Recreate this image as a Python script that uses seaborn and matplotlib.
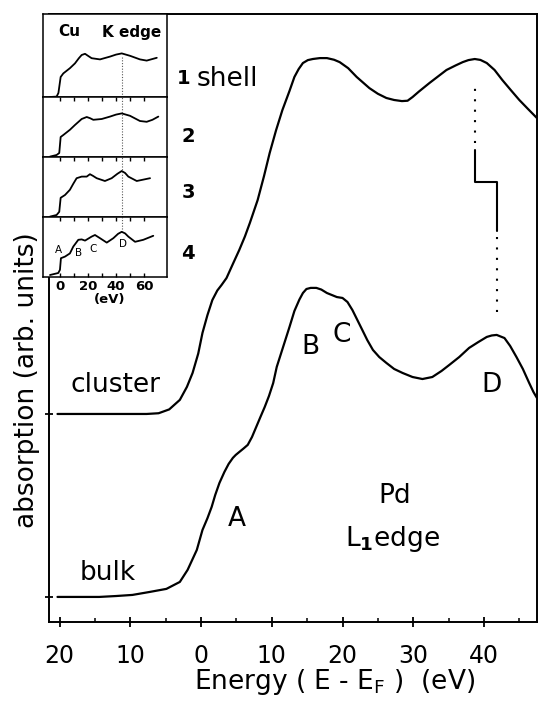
import matplotlib
matplotlib.use("Agg")
import matplotlib.pyplot as plt
import seaborn as sns
import pandas as pd

# ---------------- data: Pd L1 edge (main panel) ----------------
cluster_energy = [-20.3, -12.0, -7.7, -6.0, -4.5, -3.0, -2.0, -1.2, -0.4, 0.2, 0.9, 1.6, 2.3,
                  2.9, 3.6, 4.5, 5.4, 6.2, 6.9, 8.0, 8.9, 9.7, 10.6, 11.5, 12.5, 13.2, 13.8,
                  14.4, 15.1, 15.8, 16.8, 17.8, 18.8, 19.6, 20.8, 22.0, 23.8, 25.0, 26.2,
                  27.3, 28.4, 29.2, 29.9, 30.8, 32.3, 34.7, 36.0, 37.0, 37.8, 38.7, 39.5,
                  40.4, 41.5, 42.6, 43.8, 45.0, 46.2, 47.5]
cluster_abs = [1.000, 1.000, 1.000, 1.004, 1.025, 1.077, 1.148, 1.224, 1.330, 1.443, 1.540, 1.623,
               1.675, 1.705, 1.743, 1.820, 1.896, 1.970, 2.044, 2.169, 2.300, 2.426, 2.550,
               2.661, 2.765, 2.842, 2.885, 2.918, 2.934, 2.940, 2.945, 2.945, 2.936, 2.923,
               2.890, 2.842, 2.781, 2.750, 2.727, 2.716, 2.710, 2.712, 2.732, 2.762, 2.809,
               2.880, 2.905, 2.923, 2.934, 2.940, 2.935, 2.918, 2.880, 2.825, 2.770, 2.716,
               2.668, 2.617]

bulk_energy = [-20.3, -14.4, -12.0, -9.7, -7.3, -4.9, -3.0, -1.9, -0.6, 0.2, 0.9, 1.5, 2.0,
               2.6, 3.3, 3.9, 4.5, 4.9, 5.4, 6.0, 6.6, 7.2, 7.8, 8.4, 9.0, 9.6, 10.2, 10.7,
               11.6, 12.5, 13.2, 13.9, 14.4, 14.9, 15.5, 16.3, 17.0, 17.8, 18.5, 19.2, 20.0,
               20.7, 21.4, 22.8, 23.5, 24.3, 25.2, 26.2, 27.3, 28.5, 29.9, 31.3, 32.7, 34.0,
               35.1, 36.5, 37.9, 39.2, 40.4, 41.1, 41.8, 42.9, 43.7, 44.6, 45.5, 46.4, 47.0,
               47.5]
bulk_abs = [0.000, 0.000, 0.005, 0.011, 0.027, 0.044, 0.082, 0.148, 0.257, 0.366, 0.430, 0.492,
            0.557, 0.623, 0.683, 0.727, 0.760, 0.776, 0.792, 0.811, 0.831, 0.874, 0.929, 0.984,
            1.038, 1.098, 1.169, 1.257, 1.366, 1.475, 1.563, 1.625, 1.661, 1.683, 1.689, 1.689,
            1.680, 1.661, 1.650, 1.639, 1.634, 1.612, 1.568, 1.459, 1.404, 1.350, 1.311, 1.279,
            1.246, 1.224, 1.202, 1.191, 1.202, 1.235, 1.268, 1.311, 1.361, 1.393, 1.421, 1.429,
            1.432, 1.415, 1.372, 1.311, 1.246, 1.169, 1.120, 1.087]

x_ticks = [-20, -10, 0, 10, 20, 30, 40]
x_tick_labels = ["20", "10", "0", "10", "20", "30", "40"]
x_minor_ticks = [-15, -5, 5, 15, 25, 35, 45]
baseline_ticks = [0.0, 1.0]          # bulk and cluster baselines

# peak D positions (eV) and the shift marker levels (arb. units)
cluster_peak_D = 38.8
bulk_peak_D = 41.8
upper_dotted = (2.48, 2.81)
upper_solid = (2.27, 2.44)
lower_solid = (2.00, 2.27)
lower_dotted = (1.56, 1.97)

# ---------------- data: Cu K edge inset (1 to 4 shells) ----------------
cu_energy_1 = [-7.1, -2.4, -1.1, 0.5, 2.4, 7.1, 10.7, 13.5, 15.5, 17.9, 20.0, 22.6, 28.6, 35.7,
               40.0, 44.1, 50.0, 57.1, 61.9, 69.1]
cu_abs_1 = [0.00, 0.01, 0.10, 0.50, 0.59, 0.72, 0.84, 0.97, 1.05, 1.08, 1.03, 0.97, 0.94, 1.01,
            1.06, 1.09, 1.03, 0.94, 0.91, 0.98]
cu_energy_2 = [-7.1, -2.4, -0.5, 0.5, 2.4, 7.1, 10.7, 15.5, 19.1, 21.5, 23.8, 29.8, 35.7, 40.0,
               44.1, 50.0, 57.1, 61.9, 66.0, 70.2]
cu_abs_2 = [0.01, 0.05, 0.10, 0.50, 0.55, 0.68, 0.80, 0.95, 1.00, 0.97, 0.93, 0.95, 1.01, 1.06,
            1.09, 1.03, 0.90, 0.88, 0.93, 1.01]
cu_energy_3 = [-7.1, -2.4, -0.5, 0.5, 3.6, 7.1, 9.5, 11.9, 15.5, 19.1, 21.4, 23.5, 26.2, 32.1,
               36.9, 41.0, 44.1, 46.5, 48.8, 54.8, 64.3]
cu_abs_3 = [0.01, 0.05, 0.13, 0.48, 0.55, 0.68, 0.83, 0.97, 1.01, 1.01, 1.07, 1.03, 0.97, 0.90,
            0.97, 1.08, 1.15, 1.10, 1.01, 0.90, 0.97]
cu_energy_4 = [-7.1, -1.2, 0.0, 0.7, 3.6, 7.1, 9.5, 13.1, 15.5, 17.9, 22.6, 25.0, 28.6, 33.4,
               38.1, 41.5, 44.1, 46.5, 48.8, 53.6, 59.5, 66.6]
cu_abs_4 = [0.05, 0.10, 0.18, 0.47, 0.51, 0.59, 0.76, 0.93, 0.94, 0.91, 1.01, 1.05, 0.97, 0.86,
            0.97, 1.08, 1.13, 1.09, 1.01, 0.88, 0.93, 1.03]
cu_peak_D = 44.0
inset_ticks = [0, 10, 20, 30, 40, 50, 60]
inset_tick_labels = ["0", "", "20", "", "40", "", "60"]
shell_labels = ["1", "2", "3", "4"]

# ---------------- styling ----------------
sns.set_theme(style="ticks")
plt.rcParams["font.family"] = ["DejaVu Sans"]
plt.rcParams["mathtext.fontset"] = "dejavusans"
plt.rcParams["text.color"] = "black"
plt.rcParams["axes.labelcolor"] = "black"
plt.rcParams["xtick.color"] = "black"
plt.rcParams["ytick.color"] = "black"
plt.rcParams["axes.edgecolor"] = "black"

W, H = 538, 721
fig = plt.figure(figsize=(W / 100, H / 100), dpi=100)


def fx(px):
    return px / W


def fy(py):
    return 1 - py / H


ax = fig.add_axes([fx(49), fy(622), fx(537) - fx(49), fy(14) - fy(622)])

df_cluster = pd.DataFrame({"energy": cluster_energy, "absorption": cluster_abs})
df_bulk = pd.DataFrame({"energy": bulk_energy, "absorption": bulk_abs})
for d in (df_cluster, df_bulk):
    sns.lineplot(data=d, x="energy", y="absorption", ax=ax, sort=False, estimator=None,
                 color="black", lw=1.6)

ax.set_xlim(-21.5, 47.5)
ax.set_ylim(-0.137, 3.186)
ax.set_xticks(x_ticks)
ax.set_xticklabels(x_tick_labels)
ax.set_xticks(x_minor_ticks, minor=True)
ax.set_yticks(baseline_ticks)
ax.set_yticklabels([])
ax.set_xlabel("")
ax.set_ylabel("")
for s in ax.spines.values():
    s.set_linewidth(1.4)
    s.set_color("black")
ax.tick_params(axis="x", which="major", direction="inout", length=7, width=1.3,
               labelsize=17, pad=12, colors="black")
ax.tick_params(axis="x", which="minor", direction="in", length=3, width=1.1)
ax.tick_params(axis="y", which="major", direction="inout", length=6, width=1.3)

# energy-shift markers
dot = (0, (1, 4))
ax.plot([cluster_peak_D, cluster_peak_D], upper_dotted, color="black", lw=1.5, ls=dot)
ax.plot([cluster_peak_D, cluster_peak_D, bulk_peak_D, bulk_peak_D],
        [upper_solid[1], upper_solid[0], lower_solid[1], lower_solid[0]], color="black", lw=1.5)
ax.plot([bulk_peak_D, bulk_peak_D], lower_dotted, color="black", lw=1.5, ls=dot)

# main annotations
fs = 19
fig.text(fx(115), fy(385), "cluster", fontsize=fs, ha="center", va="center")
fig.text(fx(108), fy(573), "bulk", fontsize=fs, ha="center", va="center")
fig.text(fx(237), fy(519), "A", fontsize=fs, ha="center", va="center")
fig.text(fx(310), fy(347), "B", fontsize=fs, ha="center", va="center")
fig.text(fx(342), fy(335), "C", fontsize=fs, ha="center", va="center")
fig.text(fx(492), fy(385), "D", fontsize=fs, ha="center", va="center")
fig.text(fx(395), fy(496), "Pd", fontsize=fs, ha="center", va="center")
fig.text(fx(393), fy(539), r"L$_{\mathbf{1}}$edge", fontsize=fs, ha="center", va="center")
fig.text(fx(335), fy(682), r"Energy ( E - E$_{\mathrm{F}}$ )  (eV)", fontsize=19,
         ha="center", va="center")
fig.text(fx(27), fy(380), "absorption (arb. units)", fontsize=19, rotation=90,
         ha="center", va="center")

# ---------------- inset ----------------
inset_left, inset_right = 43, 167
panel_px = [(14, 97), (97, 157), (157, 217), (217, 277)]
inset_data = [(cu_energy_1, cu_abs_1), (cu_energy_2, cu_abs_2),
              (cu_energy_3, cu_abs_3), (cu_energy_4, cu_abs_4)]
for i, ((top, bot), (e, a)) in enumerate(zip(panel_px, inset_data)):
    iax = fig.add_axes([fx(inset_left), fy(bot), fx(inset_right) - fx(inset_left),
                        fy(top) - fy(bot)])
    iax.set_facecolor("white")
    sns.lineplot(x=e, y=a, ax=iax, sort=False, estimator=None, color="black", lw=1.3)
    iax.set_xlim(-12.1, 76.4)
    ymax = (bot - top) / 40
    iax.set_ylim(0, ymax)
    for s in iax.spines.values():
        s.set_linewidth(1.1)
        s.set_color("black")
    iax.set_yticks([])
    iax.set_xticks(inset_ticks)
    if i == 3:
        iax.set_xticklabels(inset_tick_labels)
        iax.tick_params(axis="x", direction="in", length=3, width=1.0, labelsize=9.5,
                        pad=2, top=True, bottom=True)
        for lab in iax.get_xticklabels():
            lab.set_fontweight("bold")
    else:
        iax.set_xticklabels([])
        iax.tick_params(axis="x", direction="in", length=3, width=1.0,
                        top=(i > 0), bottom=False)
    iax.set_xlabel("")
    iax.set_ylabel("")
    if i == 0:
        iax.vlines(cu_peak_D, 0, 1.0, color="0.35", lw=0.8, ls=(0, (1, 1.5)))
    elif i in (1, 2):
        iax.vlines(cu_peak_D, 0, ymax, color="0.35", lw=0.8, ls=(0, (1, 1.5)))
    else:
        iax.vlines(cu_peak_D, 1.2, ymax, color="0.35", lw=0.8, ls=(0, (1, 1.5)))

fig.text(fx(69), fy(32), "Cu", fontsize=11, fontweight="bold", ha="center", va="center")
fig.text(fx(132), fy(32), "K edge", fontsize=11, fontweight="bold", ha="center", va="center")
fig.text(fx(110), fy(300), "(eV)", fontsize=9.5, fontweight="bold", ha="center", va="center")
fig.text(fx(58), fy(250), "A", fontsize=7.5, ha="center", va="center")
fig.text(fx(79), fy(253), "B", fontsize=7.5, ha="center", va="center")
fig.text(fx(93), fy(249), "C", fontsize=7.5, ha="center", va="center")
fig.text(fx(123), fy(244), "D", fontsize=7.5, ha="center", va="center")

fig.text(fx(184), fy(78), shell_labels[0], fontsize=14, fontweight="bold", ha="center",
         va="center")
fig.text(fx(197), fy(86), "shell", fontsize=19, ha="left", va="baseline")
for lab, yc in zip(shell_labels[1:], [136, 193, 253]):
    fig.text(fx(188), fy(yc), lab, fontsize=14, fontweight="bold", ha="center", va="center")

fig.savefig("out.png", dpi=100)
